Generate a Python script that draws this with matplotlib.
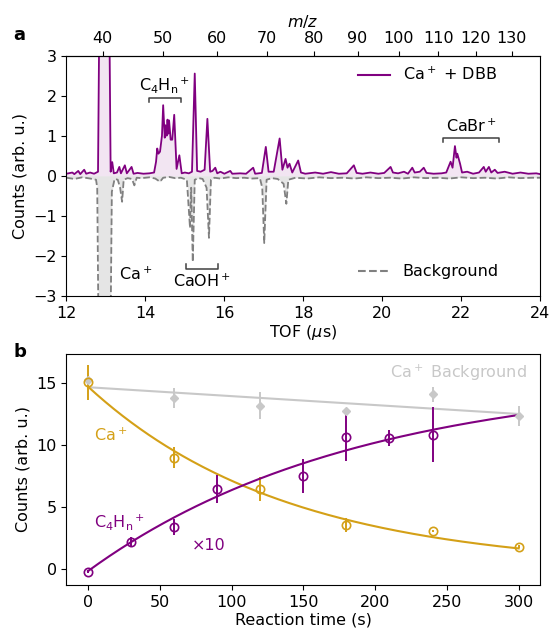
#!/usr/bin/env python3
import numpy as np
import matplotlib
matplotlib.use("Agg")
import matplotlib.pyplot as plt
from matplotlib.lines import Line2D

plt.rcParams["font.family"] = ["DejaVu Sans"]
plt.rcParams["font.size"] = 11.5

PURPLE = "#800080"
GOLD = "#d4a017"
GREY = "#808080"
LIGHT = "#c8c8c8"

# ---- panel a: TOF spectrum ----
sig_tof = [12.00, 12.15, 12.20, 12.30, 12.35, 12.45, 12.50, 12.60, 12.70, 12.80,
           12.83, 13.09, 13.12, 13.16, 13.20, 13.28, 13.34, 13.38, 13.48, 13.53,
           13.65, 13.70, 13.80, 13.95, 14.10, 14.22, 14.27, 14.30, 14.33, 14.37,
           14.42, 14.45, 14.49, 14.51, 14.54, 14.56, 14.58, 14.60, 14.64, 14.68,
           14.73, 14.79, 14.86, 14.92, 15.00, 15.10, 15.18, 15.25, 15.31, 15.40,
           15.50, 15.57, 15.64, 15.70, 15.77, 15.82, 15.90, 16.00, 16.15, 16.20,
           16.40, 16.55, 16.73, 16.78, 16.95, 17.05, 17.12, 17.25, 17.40, 17.47,
           17.55, 17.60, 17.65, 17.72, 17.87, 17.94, 18.05, 18.30, 18.50, 18.70,
           18.90, 19.10, 19.28, 19.35, 19.50, 19.70, 19.90, 20.05, 20.21, 20.27,
           20.40, 20.55, 20.65, 20.76, 20.82, 20.95, 21.05, 21.12, 21.30, 21.50,
           21.62, 21.73, 21.78, 21.84, 21.88, 21.90, 21.97, 22.02, 22.15, 22.30,
           22.45, 22.57, 22.62, 22.70, 22.76, 22.85, 22.92, 23.10, 23.30, 23.50,
           23.70, 23.90, 24.00]
sig_counts = [0.05, 0.08, 0.04, 0.12, 0.04, 0.15, 0.05, 0.08, 0.05, 0.10,
              3.60, 3.60, 0.10, 0.34, 0.06, 0.08, 0.22, 0.06, 0.26, 0.06,
              0.22, 0.05, 0.07, 0.05, 0.06, 0.08, 0.35, 0.68, 0.55, 0.60,
              1.00, 1.76, 0.95, 1.26, 1.00, 1.40, 1.05, 1.38, 0.90, 0.90,
              1.52, 0.17, 0.51, 0.06, 0.08, 0.06, 0.10, 2.55, 0.12, 0.10,
              0.15, 1.42, 0.10, 0.12, 0.20, 0.06, 0.10, 0.05, 0.12, 0.05,
              0.06, 0.05, 0.20, 0.05, 0.07, 0.72, 0.10, 0.10, 0.93, 0.15,
              0.42, 0.20, 0.30, 0.08, 0.38, 0.08, 0.05, 0.08, 0.05, 0.09,
              0.05, 0.06, 0.26, 0.07, 0.05, 0.08, 0.05, 0.07, 0.22, 0.08,
              0.06, 0.10, 0.05, 0.20, 0.08, 0.10, 0.20, 0.07, 0.05, 0.06,
              0.08, 0.35, 0.20, 0.74, 0.45, 0.55, 0.30, 0.08, 0.10, 0.05,
              0.08, 0.22, 0.10, 0.22, 0.08, 0.15, 0.07, 0.10, 0.05, 0.08,
              0.05, 0.06, 0.04]

bg_tof = [12.00, 12.20, 12.40, 12.60, 12.75, 12.78, 12.81, 13.12, 13.15, 13.22,
          13.30, 13.36, 13.41, 13.45, 13.55, 13.66, 13.72, 13.78, 13.90, 14.10,
          14.25, 14.37, 14.45, 14.60, 14.75, 14.90, 15.05, 15.13, 15.16, 15.20,
          15.25, 15.35, 15.45, 15.55, 15.61, 15.66, 15.75, 15.90, 16.10, 16.30,
          16.50, 16.70, 16.90, 16.96, 17.01, 17.07, 17.20, 17.35, 17.50, 17.57,
          17.62, 17.80, 18.10, 18.40, 18.70, 19.00, 19.30, 19.60, 19.90, 20.20,
          20.50, 20.80, 21.10, 21.40, 21.70, 22.00, 22.30, 22.60, 22.90, 23.20,
          23.50, 23.80, 24.00]
bg_counts = [-0.05, -0.08, -0.04, -0.07, -0.10, -0.30, -3.60, -3.60, -0.40, -0.08,
             -0.10, -0.30, -0.65, -0.10, -0.06, -0.08, -0.24, -0.05, -0.06, -0.04,
             -0.07, -0.15, -0.05, -0.03, -0.06, -0.05, -0.10, -1.30, -0.30, -2.15,
             -0.10, -0.06, -0.08, -0.30, -1.55, -0.10, -0.05, -0.07, -0.04, -0.06,
             -0.05, -0.07, -0.06, -0.30, -1.68, -0.10, -0.06, -0.08, -0.20, -0.70,
             -0.10, -0.05, -0.07, -0.04, -0.06, -0.05, -0.07, -0.04, -0.06, -0.05,
             -0.07, -0.04, -0.06, -0.05, -0.07, -0.04, -0.06, -0.05, -0.07, -0.04,
             -0.06, -0.05, -0.05]

# TOF = a*sqrt(m/z) + b
TOF_A, TOF_B = 2.04, 0.02
mz_ticks = list(range(40, 131, 10))

# ---- panel b: kinetics ----
t_ca = [0, 60, 120, 180, 240, 300]
ca = [15.03, 8.97, 6.43, 3.56, 3.08, 1.82]
ca_err = [1.4, 0.85, 0.95, 0.55, 0.1, 0.1]

t_bg = [0, 60, 120, 180, 240, 300]
ca_bg = [15.2, 13.74, 13.15, 12.72, 14.07, 12.32]
ca_bg_err = [0.6, 0.8, 1.1, 0.2, 0.6, 0.8]

t_c4 = [0, 30, 60, 90, 150, 180, 210, 240]
c4 = [-0.19, 2.22, 3.37, 6.45, 7.5, 10.66, 10.53, 10.8]
c4_err = [0.1, 0.4, 0.65, 1.1, 1.35, 1.95, 0.65, 2.2]

# fit parameters
ca_fit = (14.68, 0.00724)              # A*exp(-k t)
c4_fit = (15.69, 0.00536, -0.15)       # A*(1-exp(-k t)) + c
bg_fit = (14.63, 12.48)                # straight line, values at 0 and 300 s


fig = plt.figure(figsize=(5.49, 6.31), dpi=100)
ax1 = fig.add_axes([0.121, 0.531, 0.863, 0.381])
ax2 = fig.add_axes([0.121, 0.073, 0.863, 0.366])

# panel a
ax1.fill_between(sig_tof, 0, sig_counts, color=PURPLE, alpha=0.1, lw=0)
ax1.fill_between(bg_tof, 0, bg_counts, color=GREY, alpha=0.2, lw=0)
ax1.plot(bg_tof, bg_counts, color=GREY, ls="--", lw=1.3)
ax1.plot(sig_tof, sig_counts, color=PURPLE, lw=1.3)
ax1.set_xlim(12, 24)
ax1.set_ylim(-3, 3)
ax1.set_xticks(range(12, 25, 2))
ax1.set_yticks(range(-3, 4))
ax1.set_xlabel("TOF ($\\mu$s)", labelpad=2)
ax1.set_ylabel("Counts (arb. u.)")

sec = ax1.secondary_xaxis(
    "top",
    functions=(lambda t: ((np.asarray(t) - TOF_B).clip(0) / TOF_A) ** 2,
               lambda m: TOF_A * np.sqrt(np.abs(m)) + TOF_B),
)
sec.set_xticks(mz_ticks)
sec.set_xlabel("$m/z$", labelpad=3)

# brackets and labels
bk = dict(color="#404040", lw=1.1)
ax1.plot([14.09, 14.09, 14.89, 14.89], [1.84, 1.94, 1.94, 1.84], **bk)
ax1.text(14.49, 2.02, "C$_4$H$_\\mathrm{n}$$^+$", ha="center", va="bottom")
ax1.plot([15.03, 15.03, 15.83, 15.83], [-2.2, -2.33, -2.33, -2.2], **bk)
ax1.text(15.43, -2.42, "CaOH$^+$", ha="center", va="top")
ax1.plot([21.55, 21.55, 22.96, 22.96], [0.83, 0.93, 0.93, 0.83], **bk)
ax1.text(22.25, 1.02, "CaBr$^+$", ha="center", va="bottom")
ax1.text(13.75, -2.45, "Ca$^+$", ha="center", va="center")

leg1 = ax1.legend(handles=[Line2D([], [], color=PURPLE, lw=1.5)],
                  labels=["Ca$^+$ + DBB"], loc="center left",
                  bbox_to_anchor=(0.585, 0.92), frameon=False)
ax1.add_artist(leg1)
ax1.legend(handles=[Line2D([], [], color=GREY, lw=1.5, ls="--")],
           labels=["Background"], loc="center left",
           bbox_to_anchor=(0.585, 0.1), frameon=False)

# panel b
tt = np.linspace(0, 300, 200)
ax2.plot(tt, bg_fit[0] + (bg_fit[1] - bg_fit[0]) * tt / 300, color=LIGHT, lw=1.5)
ax2.errorbar(t_bg, ca_bg, yerr=ca_bg_err, fmt="D", ms=4, color=LIGHT,
             elinewidth=1.4, capsize=0)
ax2.plot(tt, ca_fit[0] * np.exp(-ca_fit[1] * tt), color=GOLD, lw=1.5)
ax2.errorbar(t_ca, ca, yerr=ca_err, fmt="o", ms=6, mfc="none", mew=1.2,
             color=GOLD, elinewidth=1.4, capsize=0)
ax2.plot(tt, c4_fit[0] * (1 - np.exp(-c4_fit[1] * tt)) + c4_fit[2],
         color=PURPLE, lw=1.5)
ax2.errorbar(t_c4, c4, yerr=c4_err, fmt="o", ms=6, mfc="none", mew=1.2,
             color=PURPLE, elinewidth=1.4, capsize=0)

ax2.set_xlim(-15, 315)
ax2.set_ylim(-1.26, 17.3)
ax2.set_xticks(range(0, 301, 50))
ax2.set_yticks([0, 5, 10, 15])
ax2.set_xlabel("Reaction time (s)", labelpad=2)
ax2.set_ylabel("Counts (arb. u.)")

ax2.text(258, 15.75, "Ca$^+$ Background", color=LIGHT, ha="center", va="center")
ax2.text(4, 10.8, "Ca$^+$", color=GOLD, ha="left", va="center")
ax2.text(4, 3.83, "C$_4$H$_\\mathrm{n}$$^+$", color=PURPLE, ha="left", va="center")
ax2.text(84, 1.9, "×10", color=PURPLE, ha="center", va="center")

fig.text(0.025, 0.937, "a", fontsize=13, fontweight="bold")
fig.text(0.025, 0.435, "b", fontsize=13, fontweight="bold")

fig.savefig("out.png", dpi=100)
